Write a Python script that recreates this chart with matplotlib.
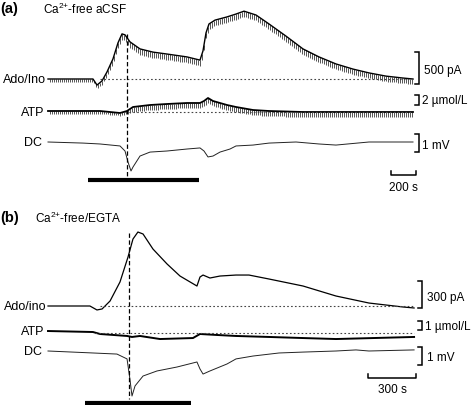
#%% Bibliotheken

import numpy as np
import matplotlib.pyplot as plt

plt.rcParams['font.family'] = ['Liberation Sans', 'DejaVu Sans']
plt.rcParams['mathtext.fontset'] = 'custom'
plt.rcParams['mathtext.rm'] = 'Liberation Sans'
plt.rcParams['mathtext.it'] = 'Liberation Sans'

#%% Daten (a) Ca2+-free aCSF  -- Zeit in s

ado_a_t = [0, 360, 392, 432, 472, 520, 560, 592, 616, 656, 736, 840, 952, 1112, 1216,
           1240, 1264, 1288, 1336, 1432, 1504, 1568, 1664, 1768, 1904, 2040, 2168,
           2304, 2440, 2568, 2704, 2840, 2920]
ado_a = [0, 0, -95, -30, 110, 315, 565, 705, 690, 580, 470, 420, 390, 345, 295,
         440, 720, 860, 920, 970, 1015, 1060, 1000, 860, 670, 470, 345,
         235, 155, 95, 45, 15, 0]                      # pA
ado_a_tick_t = [0, 360, 600, 2920]
ado_a_tick = [45, 45, 90, 80]                          # pA, Artefakt-Tiefe

atp_a_t = [0, 416, 576, 632, 680, 816, 952, 1112, 1216, 1248, 1280, 1320, 1432,
           1504, 1640, 1768, 2040, 2920]
atp_a = [0.2, 0.2, -0.2, 0.2, 1.0, 1.4, 1.6, 1.8, 1.8, 2.2, 2.8, 2.2, 1.4,
         1.0, 0.4, 0.2, 0.0, 0.0]                      # umol/L
atp_a_tick_t = [0, 600, 700, 2920]
atp_a_tick = [0.5, 0.5, 1.0, 1.0]

dc_a_t = [0, 280, 416, 576, 616, 640, 664, 680, 736, 816, 952, 1112, 1216, 1248,
          1280, 1320, 1376, 1456, 1504, 1640, 1768, 1984, 2168, 2304, 2568, 2920]
dc_a = [0, -0.06, -0.11, -0.22, -0.5, -1.11, -1.61, -1.39, -0.78, -0.56, -0.5,
        -0.39, -0.33, -0.5, -0.83, -0.78, -0.56, -0.39, -0.22, -0.17, -0.06, 0,
        -0.11, -0.17, 0, 0]                            # mV

stim_a = [320, 1208]
peak_a = 632
period_a = 16

#%% Daten (b) Ca2+-free/EGTA

ado_b_t = [0, 262, 306, 338, 388, 450, 500, 531, 562, 594, 656, 744, 825, 931, 950,
           969, 1012, 1075, 1175, 1256, 1381, 1594, 1800, 2006, 2219, 2288]
ado_b = [0, 0, -44, -33, 56, 267, 544, 744, 822, 800, 633, 467, 333, 222, 322,
         344, 311, 333, 344, 344, 300, 222, 111, 33, -11, -22]   # pA

atp_b_t = [0, 281, 325, 494, 525, 575, 700, 906, 950, 1056, 1175, 1381, 1594, 1800, 2288]
atp_b = [0.22, 0.11, -0.11, -0.33, -0.44, -0.33, -0.67, -0.56, -0.11, -0.22,
         -0.33, -0.44, -0.56, -0.67, -0.44]            # umol/L

dc_b_t = [0, 281, 431, 494, 512, 525, 544, 594, 681, 806, 931, 950, 969, 1012, 1119,
          1175, 1281, 1444, 1594, 1800, 1925, 2006, 2288]
dc_b = [0, -0.11, -0.17, -0.44, -1.56, -2.5, -1.94, -1.39, -1.11, -0.89, -0.61,
        -1.0, -1.28, -1.11, -0.72, -0.44, -0.28, -0.11, -0.06, 0, 0.06, 0, 0.06]  # mV

stim_b = [231, 894]
peak_b = 506

#%% Figur

W, H = 472, 406
fig = plt.figure(figsize=(W / 100, H / 100), dpi=100)


def trace_ax(top, bottom, base, per_px, xlim):
    # Achse ueber volle Breite, Zeilen top..bottom (Pixel), Nulllinie bei base
    ax = fig.add_axes([0, 1 - bottom / H, 1, (bottom - top) / H])
    ax.set_xlim(xlim)
    ax.set_ylim(-(bottom - base) * per_px, (base - top) * per_px)
    ax.axis('off')
    return ax


def ticks(ax, t, v, tt, td, period):
    # periodische Artefakte unter der Spur
    tp = np.arange(period, t[-1], period)
    yp = np.interp(tp, t, v)
    dp = np.interp(tp, tt, td)
    ax.vlines(tp, yp - dp, yp, color='#555555', lw=0.7)


def bracket(ax, x, lo, size, dx):
    ax.plot([x - dx, x, x, x - dx], [lo, lo, lo + size, lo + size], color='black', lw=1.1,
            solid_joinstyle='miter')


dotted = dict(color='#444444', lw=0.8, linestyle=(0, (1.5, 2)))

# ---------- Panel (a)
xa = (-48 * 8, (W - 48) * 8)

ax = trace_ax(0, 100, 80, 500 / 32, xa)
ticks(ax, ado_a_t, ado_a, ado_a_tick_t, ado_a_tick, period_a)
ax.plot(ado_a_t, ado_a, color='black', lw=1.0)
ax.plot([416, ado_a_t[-1]], [0, 0], **dotted)
bracket(ax, 2968, -78, 500, 36)

ax = trace_ax(90, 125, 113, 0.2, xa)
ticks(ax, atp_a_t, atp_a, atp_a_tick_t, atp_a_tick, period_a)
ax.plot(atp_a_t, atp_a, color='black', lw=1.3)
ax.plot([616, atp_a_t[-1]], [0, 0], **dotted)
bracket(ax, 2968, 1.4, 2, 36)

ax = trace_ax(125, 200, 143, 1 / 18, xa)
ax.plot(dc_a_t, dc_a, color='#222222', lw=0.7)
bracket(ax, 2968, -0.56, 1, 36)

ann = fig.add_axes([0, 1 - 200 / H, 1, 200 / H])
ann.set_xlim(xa)
ann.set_ylim(200, 0)
ann.axis('off')
ann.plot([peak_a, peak_a], [35, 178], color='black', lw=0.9, linestyle=(0, (3.5, 2)))
ann.plot(stim_a, [181, 181], color='black', lw=3.0, solid_capstyle='butt')
ann.plot([2744, 2744, 2944, 2944], [172, 176, 176, 172], color='black', lw=1.1)
ann.text(2844, 182, '200 s', ha='center', va='top', fontsize=8.5)

# ---------- Panel (b)
xb = (-48 * 6.25, (W - 48) * 6.25)

ax = trace_ax(205, 320, 307, 300 / 27, xb)
ax.plot(ado_b_t, ado_b, color='black', lw=0.9)
ax.plot([325, ado_b_t[-1]], [0, 0], **dotted)
bracket(ax, 2338, -22, 300, 28)

ax = trace_ax(318, 345, 334, 1 / 9, xb)
ax.plot(atp_b_t, atp_b, color='black', lw=1.4)
ax.plot([294, atp_b_t[-1]], [0, 0], **dotted)
bracket(ax, 2338, 0.33, 1, 28)

ax = trace_ax(340, 406, 352, 1 / 18, xb)
ax.plot(dc_b_t, dc_b, color='#222222', lw=0.7)
bracket(ax, 2338, -0.78, 1, 28)

ann = fig.add_axes([0, 0, 1, 206 / H])
ann.set_xlim(xb)
ann.set_ylim(406, 200)
ann.axis('off')
ann.plot([peak_b, peak_b], [234, 400], color='black', lw=0.9, linestyle=(0, (3.5, 2)))
ann.plot(stim_b, [404, 404], color='black', lw=3.0, solid_capstyle='butt')
ann.plot([2000, 2000, 2300, 2300], [375, 379, 379, 375], color='black', lw=1.1)
ann.text(2150, 384, '300 s', ha='center', va='top', fontsize=8.5)

#%% Texte in Pixelkoordinaten

txt = fig.add_axes([0, 0, 1, 1])
txt.set_xlim(0, W)
txt.set_ylim(H, 0)
txt.axis('off')

txt.text(0, 9, '(a)', fontsize=10.5, fontweight='bold', va='center')
txt.text(43, 9, r'Ca$^{2{+}}$-free aCSF', fontsize=8.5, va='center')
txt.text(46, 80, 'Ado/Ino', fontsize=9, ha='right', va='center')
txt.text(44, 113, 'ATP', fontsize=9, ha='right', va='center')
txt.text(42, 143, 'DC', fontsize=9, ha='right', va='center')
txt.text(424, 71, '500 pA', fontsize=8.5, va='center')
txt.text(422, 101, '2 µmol/L', fontsize=8.5, va='center')
txt.text(422, 146, '1 mV', fontsize=8.5, va='center')

txt.text(0, 218, '(b)', fontsize=10.5, fontweight='bold', va='center')
txt.text(35, 218, r'Ca$^{2{+}}$-free/EGTA', fontsize=8.5, va='center')
txt.text(46, 307, 'Ado/ino', fontsize=9, ha='right', va='center')
txt.text(44, 332, 'ATP', fontsize=9, ha='right', va='center')
txt.text(42, 352, 'DC', fontsize=9, ha='right', va='center')
txt.text(427, 298, '300 pA', fontsize=8.5, va='center')
txt.text(425, 327, '1 µmol/L', fontsize=8.5, va='center')
txt.text(427, 358, '1 mV', fontsize=8.5, va='center')

fig.savefig('out.png', dpi=100)
